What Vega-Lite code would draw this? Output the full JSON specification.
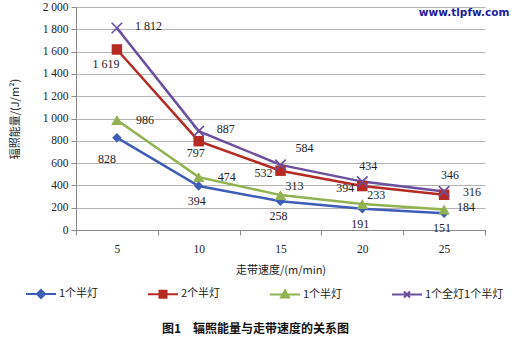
{
  "$schema": "https://vega.github.io/schema/vega-lite/v6.json",
  "width": 409,
  "height": 223,
  "autosize": "none",
  "padding": {"left": 76, "top": 7, "right": 27, "bottom": 110},
  "background": "white",
  "config": {
    "view": {"stroke": null},
    "font": "Liberation Serif, Times New Roman, serif",
    "locale": {"number": {"decimal": ".", "thousands": " ", "grouping": [3], "currency": ["", ""]}},
    "text": {"font": "Liberation Serif, Times New Roman, serif"},
    "axis": {"labelFont": "Liberation Serif, Times New Roman, serif", "labelFontSize": 11.5, "labelColor": "#222", "titleFont": "Noto Sans CJK SC", "titleFontSize": 11, "titleFontWeight": "normal", "titleColor": "#222", "domainColor": "#8a8a8a", "tickColor": "#8a8a8a", "gridColor": "#b4b4b4"}
  },
  "title": {"text": "图1　辐照能量与走带速度的关系图", "orient": "bottom", "anchor": "middle", "font": "Noto Sans CJK SC", "fontSize": 12, "fontWeight": "bold", "color": "#111", "dx": -25, "offset": 22},
  "data": {"values": [
    {"s": "A", "v": 5, "e": 828}, {"s": "A", "v": 10, "e": 394}, {"s": "A", "v": 15, "e": 258}, {"s": "A", "v": 20, "e": 191}, {"s": "A", "v": 25, "e": 151},
    {"s": "B", "v": 5, "e": 1619}, {"s": "B", "v": 10, "e": 797}, {"s": "B", "v": 15, "e": 532}, {"s": "B", "v": 20, "e": 394}, {"s": "B", "v": 25, "e": 316},
    {"s": "C", "v": 5, "e": 986}, {"s": "C", "v": 10, "e": 474}, {"s": "C", "v": 15, "e": 313}, {"s": "C", "v": 20, "e": 233}, {"s": "C", "v": 25, "e": 184},
    {"s": "D", "v": 5, "e": 1812}, {"s": "D", "v": 10, "e": 887}, {"s": "D", "v": 15, "e": 584}, {"s": "D", "v": 20, "e": 434}, {"s": "D", "v": 25, "e": 346}
  ]},
  "encoding": {
    "x": {"field": "v", "type": "ordinal", "scale": {"type": "band", "paddingInner": 0, "paddingOuter": 0},
      "axis": {"title": "走带速度/(m/min)", "labelAngle": 0, "tickBand": "extent", "tickSize": 5, "labelPadding": 8, "titlePadding": 10, "grid": false}},
    "y": {"field": "e", "type": "quantitative", "scale": {"domain": [0, 2000]},
      "axis": {"title": "辐照能量/(J/m²)", "values": [0,200,400,600,800,1000,1200,1400,1600,1800,2000], "labelExpr": "replace(format(datum.value, ','), ',', ' ')", "tickSize": 5, "labelPadding": 3, "titlePadding": 22, "grid": true}}
  },
  "layer": [
    {"mark": {"type": "line", "strokeWidth": 2.5},
     "encoding": {"color": {"field": "s", "type": "nominal",
       "scale": {"domain": ["A","B","C","D"], "range": ["#3d5db8", "#b52a22", "#90b250", "#6b4f9e"]},
       "legend": {"orient": "none", "legendX": -51, "legendY": 281, "direction": "horizontal", "columns": 4, "gridAlign": "all", "columnPadding": 6, "title": null,
         "labelExpr": "datum.value == 'A' ? '1个半灯' : datum.value == 'B' ? '2个半灯' : datum.value == 'C' ? '1个半灯' : '1个全灯1个半灯'",
         "labelFont": "Noto Sans CJK SC", "labelFontSize": 11, "labelColor": "#222", "labelOffset": 22, "symbolSize": 100, "symbolStrokeWidth": 2,
         "encode": {"symbols": {"update": {"shape": {"signal": "datum.value == 'A' ? 'M-1,0H5M1.2,0L2,-0.8L2.8,0L2,0.8Z' : datum.value == 'B' ? 'M-1,0H5M1.3,-0.7H2.7V0.7H1.3Z' : datum.value == 'C' ? 'M-1,0H5M2,-0.8L2.8,0.6H1.2Z' : 'M-1,0H5M1.4,-0.6L2.6,0.6M1.4,0.6L2.6,-0.6'"}, "strokeWidth": {"value": 2}}}}}}}},
    {"transform": [{"filter": "datum.s != 'D'"}],
     "mark": {"type": "point", "filled": true, "opacity": 1},
     "encoding": {"color": {"field": "s", "type": "nominal"},
       "shape": {"field": "s", "type": "nominal", "legend": null, "scale": {"domain": ["A","B","C"], "range": ["diamond", "square", "triangle-up"]}},
       "size": {"field": "s", "type": "nominal", "legend": null, "scale": {"domain": ["A","B","C"], "range": [90, 130, 130]}}}},
    {"transform": [{"filter": "datum.s == 'D'"}],
     "mark": {"type": "point", "filled": false, "opacity": 1, "strokeWidth": 1.6, "size": 110, "shape": "M-1,-1L1,1M-1,1L1,-1"},
     "encoding": {"color": {"field": "s", "type": "nominal"}}},
    {"transform": [{"filter": "datum.s == 'D' && datum.v <= 10"}],
     "mark": {"type": "text", "align": "left", "dx": 18, "dy": -2, "fontSize": 12, "color": "#222"},
     "encoding": {"text": {"field": "e", "type": "quantitative", "format": ","}}},
    {"transform": [{"filter": "datum.s == 'D' && datum.v == 15"}],
     "mark": {"type": "text", "align": "left", "dx": 15, "dy": -17, "fontSize": 12, "color": "#222"},
     "encoding": {"text": {"field": "e", "type": "quantitative", "format": ","}}},
    {"transform": [{"filter": "datum.s == 'D' && datum.v >= 20"}],
     "mark": {"type": "text", "align": "center", "dx": 6, "dy": -16, "fontSize": 12, "color": "#222"},
     "encoding": {"text": {"field": "e", "type": "quantitative", "format": ","}}},
    {"transform": [{"filter": "datum.s == 'B' && datum.v == 5"}],
     "mark": {"type": "text", "align": "center", "dx": -11, "dy": 15, "fontSize": 12, "color": "#222"},
     "encoding": {"text": {"field": "e", "type": "quantitative", "format": ","}}},
    {"transform": [{"filter": "datum.s == 'B' && datum.v == 10"}],
     "mark": {"type": "text", "align": "center", "dx": -3, "dy": 12, "fontSize": 12, "color": "#222"},
     "encoding": {"text": {"field": "e", "type": "quantitative", "format": ","}}},
    {"transform": [{"filter": "datum.s == 'B' && (datum.v == 15 || datum.v == 20)"}],
     "mark": {"type": "text", "align": "right", "dx": -8, "dy": 2, "fontSize": 12, "color": "#222"},
     "encoding": {"text": {"field": "e", "type": "quantitative", "format": ","}}},
    {"transform": [{"filter": "datum.s == 'B' && datum.v == 25"}],
     "mark": {"type": "text", "align": "left", "dx": 19, "dy": -3, "fontSize": 12, "color": "#222"},
     "encoding": {"text": {"field": "e", "type": "quantitative", "format": ","}}},
    {"transform": [{"filter": "datum.s == 'C' && datum.v <= 10"}],
     "mark": {"type": "text", "align": "left", "dx": 19, "dy": 0, "fontSize": 12, "color": "#222"},
     "encoding": {"text": {"field": "e", "type": "quantitative", "format": ","}}},
    {"transform": [{"filter": "datum.s == 'C' && (datum.v == 15 || datum.v == 20)"}],
     "mark": {"type": "text", "align": "left", "dx": 5, "dy": -9, "fontSize": 12, "color": "#222"},
     "encoding": {"text": {"field": "e", "type": "quantitative", "format": ","}}},
    {"transform": [{"filter": "datum.s == 'C' && datum.v == 25"}],
     "mark": {"type": "text", "align": "left", "dx": 13, "dy": -2, "fontSize": 12, "color": "#222"},
     "encoding": {"text": {"field": "e", "type": "quantitative", "format": ","}}},
    {"transform": [{"filter": "datum.s == 'A' && datum.v == 5"}],
     "mark": {"type": "text", "align": "center", "dx": -10, "dy": 21, "fontSize": 12, "color": "#222"},
     "encoding": {"text": {"field": "e", "type": "quantitative", "format": ","}}},
    {"transform": [{"filter": "datum.s == 'A' && datum.v > 5"}],
     "mark": {"type": "text", "align": "center", "dx": -2, "dy": 15, "fontSize": 12, "color": "#222"},
     "encoding": {"text": {"field": "e", "type": "quantitative", "format": ","}}},
    {"data": {"values": [{"v": 25, "e": 1946, "t": "www.tlpfw.com"}]},
     "mark": {"type": "text", "align": "center", "dx": 20, "fontSize": 10.5, "fontWeight": "bold", "font": "DejaVu Sans", "color": "#1c1c9c"},
     "encoding": {"text": {"field": "t"}}}
  ]
}
